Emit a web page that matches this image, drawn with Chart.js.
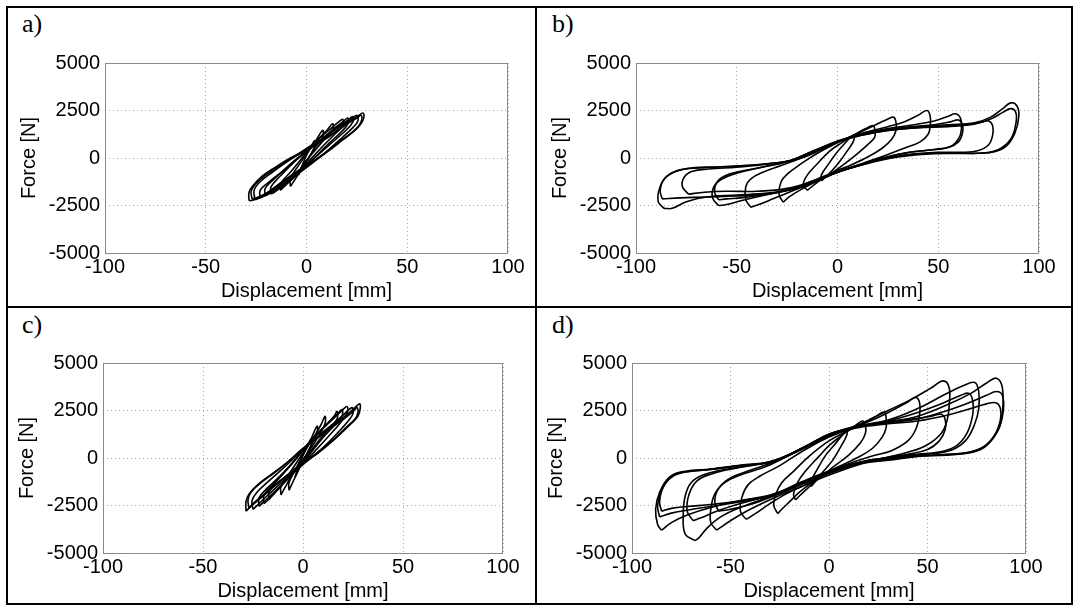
<!DOCTYPE html>
<html>
<head>
<meta charset="utf-8">
<title>Force - displacement loops</title>
<script src="https://cdn.jsdelivr.net/npm/chart.js@4.4.1/dist/chart.umd.min.js"></script>
<style>
  html, body { margin: 0; padding: 0; background: #fff; }
  body { width: 1078px; height: 608px; position: relative; overflow: hidden; }
  .frame { position: absolute; left: 6px; top: 6px; width: 1063px; height: 595px; border: 2px solid #000; }
  .vline { position: absolute; left: 535px; top: 6px; width: 2px; height: 599px; background: #000; }
  .hline { position: absolute; left: 6px; top: 306px; width: 1067px; height: 2px; background: #000; }
  .tag { position: absolute; font-family: "Liberation Serif", "Times New Roman", serif; font-size: 26px; line-height: 26px; color: #000; }
  canvas { position: absolute; }
</style>
</head>
<body>
<div class="frame"></div>
<div class="vline"></div>
<div class="hline"></div>

<script>
// axis ticks and titles
const xTicks = [-100, -50, 0, 50, 100];
const yTicks = [-5000, -2500, 0, 2500, 5000];
const xTitle = 'Displacement [mm]';
const yTitle = 'Force [N]';
const panelTags = ['a)', 'b)', 'c)', 'd)'];

// hysteresis loops: flat lists of [displacement mm, force N, ...]
const loopsA = [
  [-28.5,-2250, -28.5,-1800, -26.5,-1450, -22,-950, -15,-450, -8,0, 0,450, 8,950, 15,1450, 21,1900, 25.5,2200, 28,2370, 28.5,2150, 27,1800, 24,1450, 18,950, 10,300, 0,-450, -8,-1000, -14,-1500, -21,-1950, -26,-2200, -28.5,-2250],
  [-27,-2150, -27.5,-1750, -25.5,-1400, -21,-950, -14,-450, -7,0, 0,400, 8,900, 15,1400, 21,1850, 25,2100, 27,2250, 27.5,2050, 26,1700, 22,1300, 16,850, 9,250, 0,-400, -8,-950, -14,-1400, -20,-1850, -25,-2100, -27,-2150],
  [-25.5,-2200, -26,-1700, -23,-1250, -17,-750, -9,-150, 0,500, 8,1050, 15,1550, 21,1950, 25,2250, 25.5,1950, 23,1600, 18,1100, 10,350, 0,-500, -8,-1100, -15,-1600, -21,-2000, -25.5,-2200],
  [-23,-2100, -23,-1700, -19,-1300, -12,-700, -5,-50, 0,350, 8,1000, 15,1600, 20,1950, 23,2180, 23,1900, 20,1500, 12,750, 5,100, 0,-350, -8,-950, -15,-1500, -20,-1900, -23,-2100],
  [-20.5,-2000, -20.5,-1600, -16,-1100, -9,-450, 0,350, 7,950, 13,1500, 18,1900, 20.5,2100, 20.5,1800, 17,1350, 10,650, 0,-400, -7,-1050, -13,-1550, -18,-1850, -20.5,-2000],
  [-18,-1900, -17.5,-1500, -13,-950, -6,-200, 0,400, 6,1000, 12,1550, 16,1900, 18,2030, 18,1700, 14,1250, 7,500, 0,-300, -6,-950, -12,-1500, -16,-1800, -18,-1900],
  [-13,-1700, -12.5,-1300, -8,-750, -3,-100, 1,400, 5,900, 10,1450, 13,1800, 13,1500, 9,1000, 3,250, -1,-250, -5,-900, -10,-1400, -13,-1700],
  [-8,-1500, -8,-1100, -4,-400, 0,200, 4,800, 8,1450, 8,1100, 4,500, 0,-200, -4,-850, -8,-1500],
  [-4,-900, -2,-350, 0,150, 2,550, 4,900, 4,600, 1,0, -1,-300, -4,-900]
];

const loopsB = [
  [-86,-2650, -89,-2300, -88,-1500, -84,-900, -77,-600, -65,-500, -50,-420, -35,-300, -22,-100, -10,450, 0,900, 12,1250, 25,1500, 40,1650, 55,1750, 68,1850, 76,2150, 82,2600, 86,2900, 89,2750, 90,2200, 88,1300, 84,650, 78,330, 70,250, 58,260, 45,250, 30,100, 20,-120, 8,-450, 0,-700, -10,-1100, -22,-1600, -35,-1850, -50,-1950, -65,-2050, -75,-2300, -82,-2650, -86,-2650],
  [-87,-2150, -88,-1700, -86,-1100, -80,-700, -72,-520, -60,-470, -45,-400, -30,-250, -18,0, -8,450, 0,850, 12,1200, 25,1450, 40,1600, 55,1700, 68,1800, 76,2050, 82,2400, 86,2600, 88.5,2400, 88.5,1800, 86,1000, 80,450, 72,260, 62,240, 48,230, 32,80, 20,-150, 8,-480, 0,-750, -10,-1150, -22,-1650, -35,-1900, -50,-2000, -65,-2050, -78,-2100, -87,-2150],
  [-74,-1900, -77,-1500, -76,-1000, -72,-700, -64,-580, -50,-480, -35,-330, -22,-100, -10,420, 0,850, 12,1200, 25,1450, 40,1600, 55,1650, 66,1750, 72,1900, 75,1950, 77,1700, 77,1200, 75,700, 70,400, 62,300, 50,300, 35,180, 22,-80, 10,-420, 0,-720, -12,-1200, -25,-1600, -40,-1750, -55,-1750, -66,-1800, -74,-1900],
  [-59,-2500, -62,-2100, -61.5,-1550, -58,-1150, -50,-800, -38,-500, -25,-200, -12,350, 0,850, 12,1250, 25,1550, 38,1750, 48,1950, 55,2200, 58.5,2330, 61,2100, 61.5,1500, 60,1000, 56,600, 48,450, 36,300, 24,30, 10,-400, 0,-750, -12,-1250, -25,-1700, -38,-2000, -48,-2250, -55,-2450, -59,-2500],
  [-59,-2200, -61,-1800, -60,-1300, -56,-950, -48,-700, -36,-450, -24,-150, -12,380, 0,850, 12,1250, 25,1500, 38,1650, 48,1750, 56,1900, 60,2000, 62,1750, 62,1300, 60,850, 55,550, 46,420, 34,280, 22,0, 10,-420, 0,-750, -12,-1250, -25,-1700, -38,-1950, -48,-2100, -55,-2150, -59,-2200],
  [-43,-2590, -45.5,-2200, -45.5,-1500, -43,-1100, -37,-750, -28,-400, -18,0, -8,500, 0,850, 12,1300, 25,1650, 33,1900, 40,2250, 44.4,2500, 46,2200, 46,1700, 45,1250, 41,850, 34,550, 24,150, 12,-300, 0,-750, -12,-1300, -24,-1800, -32,-2150, -39,-2450, -43,-2590],
  [-27,-2330, -29,-1900, -28,-1250, -25,-850, -18,-300, -10,250, 0,800, 10,1300, 18,1700, 24,2000, 27.7,2150, 29,1900, 29,1450, 27,1000, 22,500, 14,0, 5,-450, 0,-650, -10,-1200, -18,-1650, -24,-2050, -27,-2330],
  [-15,-1700, -17,-1400, -15,-900, -10,-300, -4,350, 2,800, 8,1200, 14,1550, 17.8,1700, 18.5,1450, 18.5,1100, 15,700, 9,150, 3,-350, -3,-800, -9,-1200, -15,-1700],
  [-8,-1200, -8,-900, -5,-400, -1,200, 3,700, 8,1200, 8,900, 5,400, 1,-200, -3,-700, -8,-1200]
];

const loopsC = [
  [-28.5,-2800, -28.5,-2300, -27,-1900, -22,-1350, -15,-800, -8,-250, 0,500, 8,1150, 15,1700, 21,2200, 25.5,2600, 28.3,2850, 28.6,2600, 27.5,2200, 24,1800, 17,1100, 8,300, 0,-300, -8,-950, -15,-1550, -21,-2100, -26,-2550, -28.5,-2800],
  [-27,-2650, -27.5,-2200, -26,-1800, -21,-1300, -14,-750, -7,-150, 0,500, 8,1100, 15,1650, 21,2100, 25,2450, 27,2650, 27.5,2400, 26,2050, 22,1650, 16,1050, 8,350, 0,-250, -8,-900, -15,-1500, -21,-2050, -25,-2400, -27,-2650],
  [-25,-2700, -25.5,-2250, -23,-1800, -18,-1300, -10,-550, 0,450, 8,1200, 15,1800, 20,2250, 24.5,2650, 25,2350, 23,2000, 18,1400, 10,550, 0,-350, -8,-1050, -15,-1700, -20,-2200, -25,-2700],
  [-22,-2550, -22,-2100, -18,-1600, -11,-900, -4,-100, 0,450, 7,1250, 14,1950, 19,2450, 22,2710, 22,2350, 19,1900, 12,1050, 5,250, 0,-300, -7,-1050, -14,-1750, -19,-2250, -22,-2550],
  [-19.5,-2400, -19.5,-1950, -15,-1400, -8,-600, 0,400, 7,1250, 13,1900, 17.5,2350, 19.5,2550, 19.5,2200, 16,1750, 9,950, 0,-250, -7,-1000, -13,-1700, -17,-2150, -19.5,-2400],
  [-17,-2200, -17,-1800, -13,-1200, -6,-350, 0,400, 6,1150, 12,1800, 15.5,2200, 17,2450, 17,2050, 13,1550, 7,800, 0,-200, -6,-900, -12,-1600, -15.5,-2000, -17,-2200],
  [-11,-1950, -11,-1500, -7,-850, -2,-50, 2,550, 6,1200, 9,1750, 11,2190, 11,1800, 8,1200, 3,350, -2,-350, -6,-1000, -9,-1550, -11,-1950],
  [-7,-1700, -7,-1300, -4,-650, 0,150, 3,750, 7,1670, 7,1300, 4,650, 0,-150, -3,-800, -7,-1700],
  [-4,-1000, -2,-400, 0,150, 2,600, 4,1000, 4,650, 1,0, -1,-350, -4,-1000]
];

const loopsD = [
  [-85,-3800, -87,-3500, -88,-2700, -86,-1800, -81,-1000, -74,-750, -62,-620, -45,-400, -28,-170, -12,600, 0,1250, 15,1650, 30,1900, 45,2200, 60,2800, 72,3400, 80,3950, 85,4200, 88,3700, 88,2400, 86,1500, 80,700, 73,350, 60,180, 45,120, 30,-50, 17,-200, 0,-700, -15,-1300, -28,-1900, -45,-2250, -60,-2600, -72,-3000, -80,-3400, -85,-3800],
  [-86,-3100, -87,-2500, -85,-1700, -80,-950, -73,-700, -60,-580, -45,-380, -28,-150, -12,620, 0,1250, 15,1650, 30,1850, 45,2050, 60,2500, 72,2950, 80,3300, 85,3500, 88,3300, 88.5,2500, 86,1500, 80,650, 73,300, 60,150, 45,100, 30,-80, 17,-250, 0,-750, -15,-1350, -28,-1950, -45,-2300, -60,-2550, -72,-2750, -80,-2900, -86,-3100],
  [-85,-2800, -86,-2300, -84,-1500, -79,-950, -72,-720, -60,-600, -45,-400, -28,-180, -12,580, 0,1200, 15,1600, 30,1800, 45,1950, 60,2250, 72,2600, 80,2850, 85,2900, 87,2600, 87,2000, 84,1200, 78,550, 70,280, 58,180, 45,80, 30,-120, 17,-280, 0,-800, -15,-1400, -28,-1950, -45,-2250, -60,-2450, -72,-2550, -80,-2650, -85,-2800],
  [-68,-4350, -73,-4000, -74,-3000, -73,-2000, -70,-1300, -64,-900, -55,-650, -42,-420, -28,-150, -12,600, 0,1250, 15,1700, 30,2000, 45,2600, 58,3300, 68,3800, 74,3970, 76,3500, 76,2600, 74,1800, 70,1000, 64,500, 55,250, 45,180, 30,0, 17,-200, 0,-700, -15,-1400, -28,-1950, -45,-2600, -55,-3100, -62,-3700, -66,-4200, -68,-4350],
  [-69,-3300, -72,-2800, -71,-1900, -67,-1200, -60,-850, -48,-550, -30,-200, -12,580, 0,1200, 15,1650, 30,1950, 45,2400, 58,2900, 67,3300, 71,3400, 73,3000, 73,2300, 70,1300, 64,600, 55,300, 45,200, 30,20, 17,-180, 0,-700, -15,-1350, -28,-1900, -45,-2400, -57,-2800, -65,-3150, -69,-3300],
  [-57,-3800, -60,-3400, -60,-2700, -58,-1900, -53,-1300, -45,-900, -32,-450, -18,250, -5,900, 5,1350, 18,1900, 30,2500, 42,3100, 52,3700, 58,4060, 61,3700, 61,2800, 60,2000, 57,1300, 50,700, 40,300, 28,0, 15,-350, 0,-900, -15,-1550, -28,-2100, -40,-2700, -50,-3300, -55,-3650, -57,-3800],
  [-56,-2800, -58,-2300, -56,-1600, -50,-1050, -40,-650, -28,-200, -12,580, 0,1150, 15,1650, 30,1900, 42,2050, 52,2200, 57,2300, 59,2000, 59,1500, 56,900, 50,450, 40,200, 28,0, 15,-300, 0,-800, -15,-1450, -28,-2000, -40,-2450, -50,-2700, -56,-2800],
  [-42,-3230, -45,-2800, -44,-2000, -41,-1400, -35,-950, -25,-400, -12,450, 0,1100, 12,1600, 22,2000, 32,2500, 40,2950, 44,3190, 46,2900, 46,2300, 44,1500, 40,900, 32,400, 22,100, 10,-300, 0,-750, -12,-1400, -22,-1900, -30,-2400, -37,-2900, -42,-3230],
  [-26,-2930, -28,-2500, -27,-1900, -24,-1300, -18,-700, -10,100, 0,900, 10,1450, 18,1850, 24,2200, 28,2420, 29,2100, 29,1600, 27,1100, 22,500, 14,0, 5,-450, 0,-700, -8,-1250, -15,-1800, -20,-2300, -24,-2700, -26,-2930],
  [-17,-2200, -18,-1900, -16,-1300, -12,-700, -5,100, 0,650, 6,1150, 12,1600, 17,1950, 18.5,1700, 18.5,1300, 16,800, 10,150, 3,-400, 0,-650, -6,-1150, -12,-1700, -17,-2200],
  [-9,-1500, -9,-1200, -6,-600, -2,100, 2,600, 6,1100, 9,1500, 9,1200, 6,600, 2,-100, -2,-600, -6,-1100, -9,-1500]
];

// where each plot box sits on the page
const panels = [
  { tag: panelTags[0], loops: loopsA, left: 105, top: 61,  w: 403, h: 192, tagX: 22,  tagY: 11 },
  { tag: panelTags[1], loops: loopsB, left: 636, top: 61,  w: 403, h: 192, tagX: 552, tagY: 11 },
  { tag: panelTags[2], loops: loopsC, left: 103, top: 361, w: 400, h: 192, tagX: 22,  tagY: 312 },
  { tag: panelTags[3], loops: loopsD, left: 632, top: 361, w: 394, h: 192, tagX: 552, tagY: 312 }
];

const FONT = '"Liberation Sans", Arial, Helvetica, sans-serif';
const Y_AXIS_W = 88;
const X_AXIS_H = 50;
const PAD_TOP = 15;
const PAD_RIGHT = 25;

function toPoints(flat) {
  const pts = [];
  for (let i = 0; i + 1 < flat.length; i += 2) {
    pts.push({ x: flat[i], y: flat[i + 1] });
  }
  return pts;
}

// gray box round the plot area, like the original axes
const plotFrame = {
  id: 'plotFrame',
  afterDraw(chart) {
    const { ctx, chartArea } = chart;
    ctx.save();
    ctx.strokeStyle = '#8a8a8a';
    ctx.lineWidth = 1;
    ctx.strokeRect(Math.round(chartArea.left) + 0.5, Math.round(chartArea.top) + 0.5,
                   Math.round(chartArea.right - chartArea.left) - 1, Math.round(chartArea.bottom - chartArea.top));
    ctx.restore();
  }
};

panels.forEach(function (p, idx) {
  const tag = document.createElement('div');
  tag.className = 'tag';
  tag.style.left = p.tagX + 'px';
  tag.style.top = p.tagY + 'px';
  tag.textContent = p.tag;
  document.body.appendChild(tag);

  const canvas = document.createElement('canvas');
  const cw = Y_AXIS_W + p.w + PAD_RIGHT;
  const ch = PAD_TOP + p.h + X_AXIS_H;
  canvas.width = cw;
  canvas.height = ch;
  canvas.style.width = cw + 'px';
  canvas.style.height = ch + 'px';
  canvas.style.left = (p.left - Y_AXIS_W) + 'px';
  canvas.style.top = (p.top - PAD_TOP) + 'px';
  canvas.id = 'panel' + idx;
  document.body.appendChild(canvas);

  try {
    new Chart(canvas.getContext('2d'), {
      type: 'scatter',
      data: {
        datasets: p.loops.map(function (loop) {
          return {
            data: toPoints(loop),
            showLine: true,
            fill: false,
            borderColor: '#000',
            borderWidth: 1.6,
            pointRadius: 0,
            pointHoverRadius: 0,
            tension: 0.4
          };
        })
      },
      options: {
        responsive: false,
        animation: false,
        devicePixelRatio: 1,
        events: [],
        layout: { padding: { top: PAD_TOP, right: PAD_RIGHT, left: 0, bottom: 0 } },
        plugins: { legend: { display: false }, tooltip: { enabled: false } },
        scales: {
          x: {
            type: 'linear',
            min: xTicks[0],
            max: xTicks[xTicks.length - 1],
            afterBuildTicks: function (s) { s.ticks = xTicks.map(function (v) { return { value: v }; }); },
            afterFit: function (s) { s.height = X_AXIS_H; },
            ticks: {
              color: '#000', padding: 2, maxRotation: 0, autoSkip: false,
              font: { family: FONT, size: 20 },
              callback: function (v) { return String(v); }
            },
            grid: { color: 'rgba(0,0,0,0.35)', lineWidth: 1, drawTicks: false },
            border: { display: false, dash: [1, 3] },
            title: { display: true, text: xTitle, color: '#000', padding: 0, font: { family: FONT, size: 20 } }
          },
          y: {
            type: 'linear',
            min: yTicks[0],
            max: yTicks[yTicks.length - 1],
            afterBuildTicks: function (s) { s.ticks = yTicks.map(function (v) { return { value: v }; }); },
            afterFit: function (s) { s.width = Y_AXIS_W; },
            ticks: {
              color: '#000', padding: 5, autoSkip: false,
              font: { family: FONT, size: 20 },
              callback: function (v) { return String(v); }
            },
            grid: { color: 'rgba(0,0,0,0.35)', lineWidth: 1, drawTicks: false },
            border: { display: false, dash: [1, 3] },
            title: { display: true, text: yTitle, color: '#000', padding: 0, font: { family: FONT, size: 20 } }
          }
        }
      },
      plugins: [plotFrame]
    });
  } catch (err) {
    console.error('Error creating panel chart:', err);
  }
});
</script>
</body>
</html>
